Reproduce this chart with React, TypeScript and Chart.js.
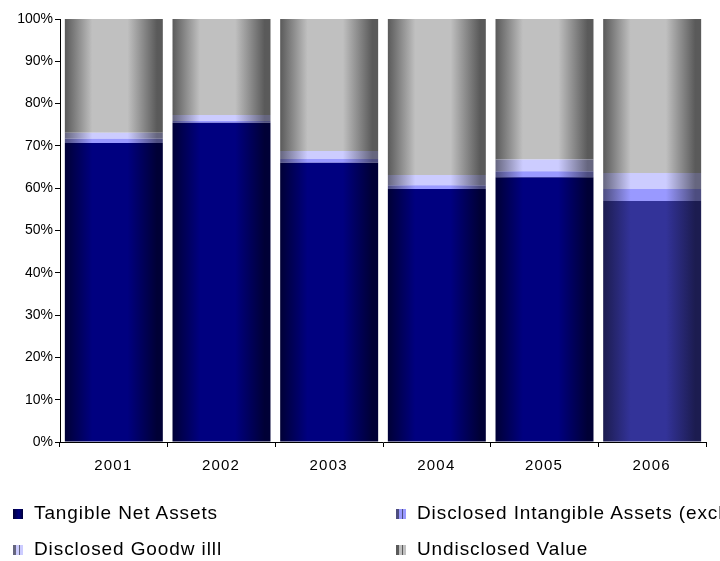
import React, { useEffect, useRef } from "react";
import { Chart, registerables } from "chart.js";

Chart.register(...registerables);

const years = ["2001", "2002", "2003", "2004", "2005", "2006"];
const tangible = [70.7, 75.5, 66.0, 59.8, 62.6, 57.0];
const intangible = [1.0, 0.4, 0.9, 0.9, 1.4, 2.8];
const goodwill = [1.4, 1.4, 1.9, 2.4, 2.8, 3.8];
const undisclosed = [26.9, 22.7, 31.2, 36.9, 33.2, 36.4];
const yTicks = [0, 10, 20, 30, 40, 50, 60, 70, 80, 90, 100];

const seriesNames = [
  "Tangible Net Assets",
  "Disclosed Intangible Assets (excl. Goodwill)",
  "Disclosed Goodw illl",
  "Undisclosed Value",
];

// [edge, center] colour pairs
const tangibleCols = ["#000036", "#000080"];
const tangibleCols2006 = ["#1c1c50", "#333399"];
const intangibleCols = ["#4d4d80", "#9999ff"];
const goodwillCols = ["#66667f", "#ccccff"];
const undisclosedCols = ["#5a5a5a", "#c0c0c0"];

const BAR_PCT = 0.91;
const FONT = '"Liberation Sans", Arial, sans-serif';

function grad(cols: string[] | ((i: number) => string[])) {
  return (ctx: any) => {
    const c = typeof cols === "function" ? cols(ctx.dataIndex ?? 0) : cols;
    const chart = ctx.chart;
    const xs = chart.scales && chart.scales.x;
    if (!xs || ctx.type !== "data" || !chart.chartArea) return c[1];
    const center = xs.getPixelForValue(ctx.dataIndex);
    const w = (xs.width / years.length) * BAR_PCT;
    const g = chart.ctx.createLinearGradient(center - w / 2, 0, center + w / 2, 0);
    g.addColorStop(0, c[0]);
    g.addColorStop(0.28, c[1]);
    g.addColorStop(0.64, c[1]);
    g.addColorStop(0.94, c[0]);
    g.addColorStop(1, c[0]);
    return g;
  };
}

const xLabelPlugin = {
  id: "xLabels",
  afterDraw(chart: any) {
    const xs = chart.scales.x;
    const ctx = chart.ctx;
    ctx.save();
    ctx.font = `15px ${FONT}`;
    (ctx as any).letterSpacing = "1.2px";
    ctx.fillStyle = "#000";
    ctx.textAlign = "center";
    ctx.textBaseline = "alphabetic";
    years.forEach((y, i) => {
      ctx.fillText(y, xs.getPixelForValue(i) - 0.5, xs.top + 27.5);
    });
    ctx.restore();
  },
};

const legendCols = [tangibleCols, intangibleCols, goodwillCols, undisclosedCols];

export default function App() {
  const ref = useRef<HTMLCanvasElement>(null);
  useEffect(() => {
    document.body.style.margin = "0";
    const font = { family: FONT, size: 14 };
    const chart = new Chart(ref.current!, {
      type: "bar",
      data: {
        labels: years,
        datasets: [
          { label: seriesNames[0], data: tangible, backgroundColor: grad((i) => (i === 5 ? tangibleCols2006 : tangibleCols)) },
          { label: seriesNames[1], data: intangible, backgroundColor: grad(intangibleCols) },
          { label: seriesNames[2], data: goodwill, backgroundColor: grad(goodwillCols) },
          { label: seriesNames[3], data: undisclosed, backgroundColor: grad(undisclosedCols) },
        ],
      },
      plugins: [xLabelPlugin],
      options: {
        animation: false,
        responsive: false,
        maintainAspectRatio: false,
        datasets: { bar: { barPercentage: BAR_PCT, categoryPercentage: 1, borderWidth: 0 } },
        layout: { padding: { top: 19, right: 14, left: 0, bottom: 0 } },
        plugins: { legend: { display: false }, tooltip: { enabled: false } },
        scales: {
          x: {
            stacked: true,
            offset: true,
            grid: { display: true, drawOnChartArea: false, drawTicks: true, tickLength: 5, color: "#000", offset: true },
            border: { display: true, color: "#000", width: 1 },
            ticks: { display: false },
            afterFit: (s: any) => { s.height = 119; },
          },
          y: {
            stacked: true,
            min: 0,
            max: 100,
            afterBuildTicks: (s: any) => { s.ticks = yTicks.map((v) => ({ value: v })); },
            grid: { display: true, drawOnChartArea: false, drawTicks: true, tickLength: 5, color: "#000" },
            border: { display: true, color: "#000", width: 1 },
            ticks: { color: "#000", font, padding: 2, callback: (v: any) => `${v}%` },
            afterFit: (s: any) => { s.width = 60; },
          },
        },
      },
    });
    return () => chart.destroy();
  }, []);

  const legendItem = (i: number, left: number, top: number) => {
    const c = legendCols[i];
    const bg =
      i === 0
        ? `linear-gradient(to right, ${c[0]}, ${c[1]} 60%, ${c[0]})`
        : `linear-gradient(to right, ${c[0]} 0%, ${c[0]} 30%, ${c[1]} 30%, ${c[1]} 60%, ${c[0]} 60%, ${c[0]} 70%, #ffffff 70%, #ffffff 75%, ${c[1]} 75%)`;
    return (
      <React.Fragment key={i}>
        <span
          style={{ position: "absolute", left, top: top + 6, width: 10, height: 10, background: bg }}
        />
        <span
          style={{
            position: "absolute",
            left: left + 21,
            top,
            whiteSpace: "nowrap",
            fontFamily: FONT,
            fontSize: 19,
            lineHeight: "20px",
            letterSpacing: "0.9px",
            color: "#000",
          }}
        >
          {seriesNames[i]}
        </span>
      </React.Fragment>
    );
  };

  return (
    <div style={{ position: "relative", width: 720, height: 561, overflow: "hidden", background: "#fff" }}>
      <canvas ref={ref} width={720} height={561} style={{ position: "absolute", left: 0, top: 0 }} />
      {legendItem(0, 13, 503)}
      {legendItem(1, 396, 503)}
      {legendItem(2, 13, 539)}
      {legendItem(3, 396, 539)}
    </div>
  );
}
